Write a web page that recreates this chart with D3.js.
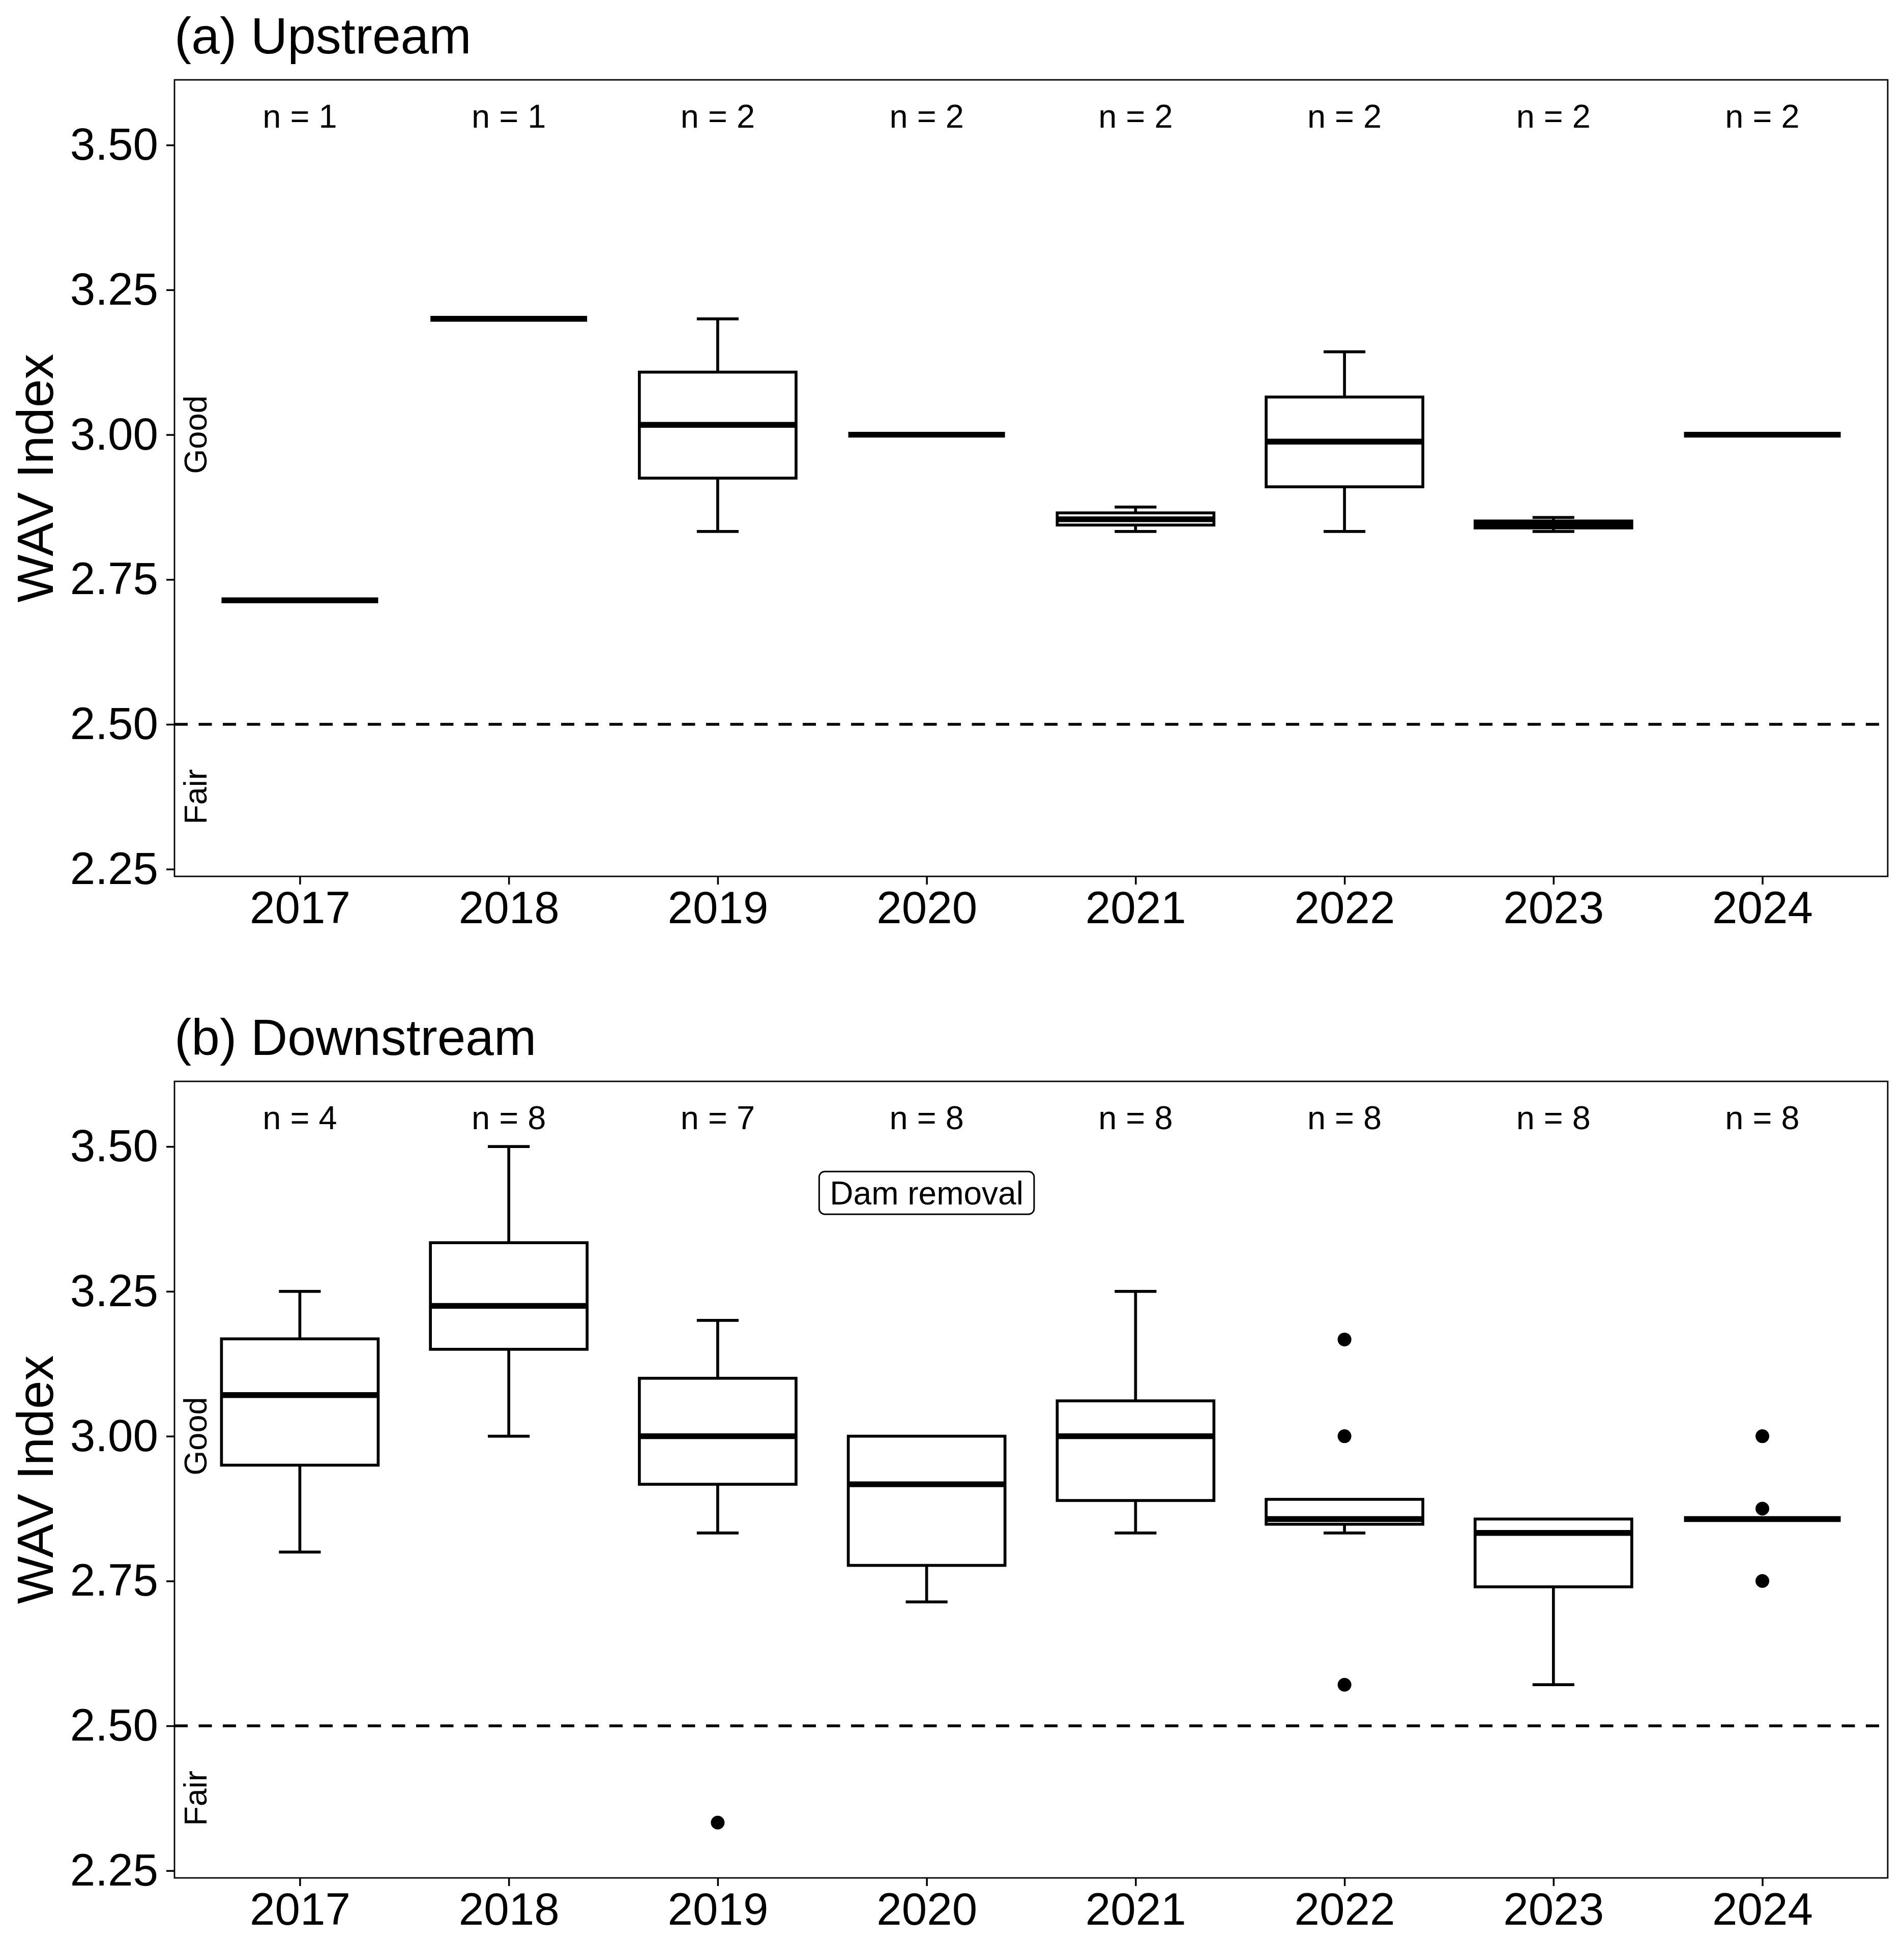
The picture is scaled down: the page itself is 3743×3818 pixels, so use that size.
<!DOCTYPE html>
<html>
<head>
<meta charset="utf-8">
<script src="https://cdn.jsdelivr.net/npm/d3@7"></script>
<style>
  body { margin: 0; background: #fff; }
  text { font-family: "Liberation Sans", Arial, Helvetica, sans-serif; }
</style>
</head>
<body>
<svg id="chart" width="3743" height="3818"></svg>
<script>
// categories
var years = ["2017", "2018", "2019", "2020", "2021", "2022", "2023", "2024"];
var yTicks = [2.25, 2.50, 2.75, 3.00, 3.25, 3.50];

// (a) Upstream box stats
var upN       = [1, 1, 2, 2, 2, 2, 2, 2];
var upLower   = [2.714, 3.200, 2.833, 3.000, 2.833, 2.833, 2.833, 3.000];
var upQ1      = [2.714, 3.200, 2.925, 3.000, 2.844, 2.910, 2.839, 3.000];
var upMedian  = [2.714, 3.200, 3.017, 3.000, 2.854, 2.988, 2.845, 3.000];
var upQ3      = [2.714, 3.200, 3.108, 3.000, 2.865, 3.065, 2.851, 3.000];
var upUpper   = [2.714, 3.200, 3.200, 3.000, 2.875, 3.143, 2.857, 3.000];
var upOut     = [[], [], [], [], [], [], [], []];

// (b) Downstream
var downN      = [4, 8, 7, 8, 8, 8, 8, 8];
var downLower  = [2.800, 3.000, 2.833, 2.714, 2.833, 2.833, 2.571, 2.857];
var downQ1     = [2.950, 3.150, 2.917, 2.777, 2.889, 2.848, 2.740, 2.857];
var downMedian = [3.071, 3.225, 3.000, 2.917, 3.000, 2.857, 2.833, 2.857];
var downQ3     = [3.168, 3.334, 3.100, 3.000, 3.061, 2.891, 2.857, 2.857];
var downUpper  = [3.250, 3.500, 3.200, 3.000, 3.250, 2.891, 2.857, 2.857];
var downOut    = [[], [], [2.333], [], [], [3.167, 3.000, 2.571], [], [3.000, 2.875, 2.750]];

var threshold = 2.5;
var goodY = 3.0, fairY = 2.375;
var nLabelY = 3.55;
var damYear = "2020", damY = 3.42;

var svg = d3.select("#chart");
svg.append("rect").attr("width", 3743).attr("height", 3818).attr("fill", "#fff");

var left = 343, right = 3711;

var x = d3.scalePoint()
    .domain(years)
    .range([left, right])
    .padding(0.6);

function drawPanel(title, top, bottom, lower, q1, med, q3, upper, outs, ns, dam) {
    var y = d3.scaleLinear()
        .domain([2.2375, 3.6125])
        .range([bottom, top]);

    var g = svg.append("g");
    var step = x.step();
    var boxW = step * 0.75;
    var capW = step * 0.2;
    var lw = 5.7;

    // title
    g.append("text")
        .attr("x", left)
        .attr("y", top - 52)
        .attr("font-size", 100)
        .text(title);

    // y axis title
    g.append("text")
        .attr("transform", "translate(104," + ((top + bottom) / 2) + ") rotate(-90)")
        .attr("text-anchor", "middle")
        .attr("font-size", 100)
        .text("WAV Index");

    // threshold line
    g.append("line")
        .attr("x1", left).attr("x2", right)
        .attr("y1", y(threshold)).attr("y2", y(threshold))
        .attr("stroke", "#000")
        .attr("stroke-width", 5.5)
        .attr("stroke-dasharray", "26 21.5");

    // Good / Fair
    var lx = left + step * 0.1;
    [["Good", goodY], ["Fair", fairY]].forEach(function(d) {
        g.append("text")
            .attr("transform", "translate(" + lx + "," + y(d[1]) + ") rotate(-90)")
            .attr("text-anchor", "middle")
            .attr("dy", "0.35em")
            .attr("font-size", 63)
            .text(d[0]);
    });

    // n labels
    g.selectAll(".nlab")
        .data(years)
        .enter().append("text")
        .attr("x", function(d) { return x(d); })
        .attr("y", y(nLabelY))
        .attr("dy", "0.35em")
        .attr("text-anchor", "middle")
        .attr("font-size", 65)
        .text(function(d, i) { return "n = " + ns[i]; });

    var boxes = g.selectAll(".box")
        .data(years)
        .enter().append("g");

    // whiskers
    boxes.append("line")
        .attr("x1", function(d) { return x(d); })
        .attr("x2", function(d) { return x(d); })
        .attr("y1", function(d, i) { return y(upper[i]); })
        .attr("y2", function(d, i) { return y(q3[i]); })
        .attr("stroke", "#000").attr("stroke-width", lw);
    boxes.append("line")
        .attr("x1", function(d) { return x(d); })
        .attr("x2", function(d) { return x(d); })
        .attr("y1", function(d, i) { return y(lower[i]); })
        .attr("y2", function(d, i) { return y(q1[i]); })
        .attr("stroke", "#000").attr("stroke-width", lw);

    // caps (only where a whisker exists)
    boxes.each(function(d, i) {
        var b = d3.select(this);
        if (upper[i] > q3[i]) {
            b.append("line")
                .attr("x1", x(d) - capW / 2).attr("x2", x(d) + capW / 2)
                .attr("y1", y(upper[i])).attr("y2", y(upper[i]))
                .attr("stroke", "#000").attr("stroke-width", lw);
        }
        if (lower[i] < q1[i]) {
            b.append("line")
                .attr("x1", x(d) - capW / 2).attr("x2", x(d) + capW / 2)
                .attr("y1", y(lower[i])).attr("y2", y(lower[i]))
                .attr("stroke", "#000").attr("stroke-width", lw);
        }
    });

    // box
    boxes.append("rect")
        .attr("x", function(d) { return x(d) - boxW / 2; })
        .attr("width", boxW)
        .attr("y", function(d, i) { return y(q3[i]); })
        .attr("height", function(d, i) { return y(q1[i]) - y(q3[i]); })
        .attr("fill", "#fff")
        .attr("stroke", "#000")
        .attr("stroke-width", lw);

    // median
    boxes.append("line")
        .attr("x1", function(d) { return x(d) - boxW / 2; })
        .attr("x2", function(d) { return x(d) + boxW / 2; })
        .attr("y1", function(d, i) { return y(med[i]); })
        .attr("y2", function(d, i) { return y(med[i]); })
        .attr("stroke", "#000")
        .attr("stroke-width", 11.4);

    // outliers
    boxes.each(function(d, i) {
        d3.select(this).selectAll("circle")
            .data(outs[i])
            .enter().append("circle")
            .attr("cx", x(d))
            .attr("cy", function(v) { return y(v); })
            .attr("r", 13.5)
            .attr("fill", "#000");
    });

    // dam removal label
    if (dam) {
        var lab = g.append("g");
        var t = lab.append("text")
            .attr("x", x(damYear))
            .attr("y", y(damY))
            .attr("dy", "0.35em")
            .attr("text-anchor", "middle")
            .attr("font-size", 64)
            .text("Dam removal");
        var tw = t.node().getComputedTextLength();
        lab.insert("rect", "text")
            .attr("x", x(damYear) - tw / 2 - 21)
            .attr("y", y(damY) - 42)
            .attr("width", tw + 42)
            .attr("height", 84)
            .attr("rx", 11)
            .attr("fill", "#fff")
            .attr("stroke", "#000")
            .attr("stroke-width", 3);
    }

    // panel border
    g.append("rect")
        .attr("x", left).attr("y", top)
        .attr("width", right - left).attr("height", bottom - top)
        .attr("fill", "none")
        .attr("stroke", "#000")
        .attr("stroke-width", 2.8);

    // axes
    var ya = g.append("g")
        .attr("transform", "translate(" + left + ",0)")
        .call(d3.axisLeft(y).tickValues(yTicks).tickFormat(d3.format(".2f")).tickSize(16).tickPadding(16));
    var xa = g.append("g")
        .attr("transform", "translate(0," + bottom + ")")
        .call(d3.axisBottom(x).tickSize(16).tickPadding(13));
    [ya, xa].forEach(function(a) {
        a.select(".domain").remove();
        a.selectAll(".tick line").attr("stroke", "#000").attr("stroke-width", 3.5);
        a.selectAll(".tick text")
            .attr("fill", "#000")
            .attr("font-size", 89)
            .attr("font-family", "Liberation Sans, Arial, Helvetica, sans-serif");
    });
}

drawPanel("(a) Upstream", 157, 1723, upLower, upQ1, upMedian, upQ3, upUpper, upOut, upN, false);
drawPanel("(b) Downstream", 2126, 3692, downLower, downQ1, downMedian, downQ3, downUpper, downOut, downN, true);
</script>
</body>
</html>
